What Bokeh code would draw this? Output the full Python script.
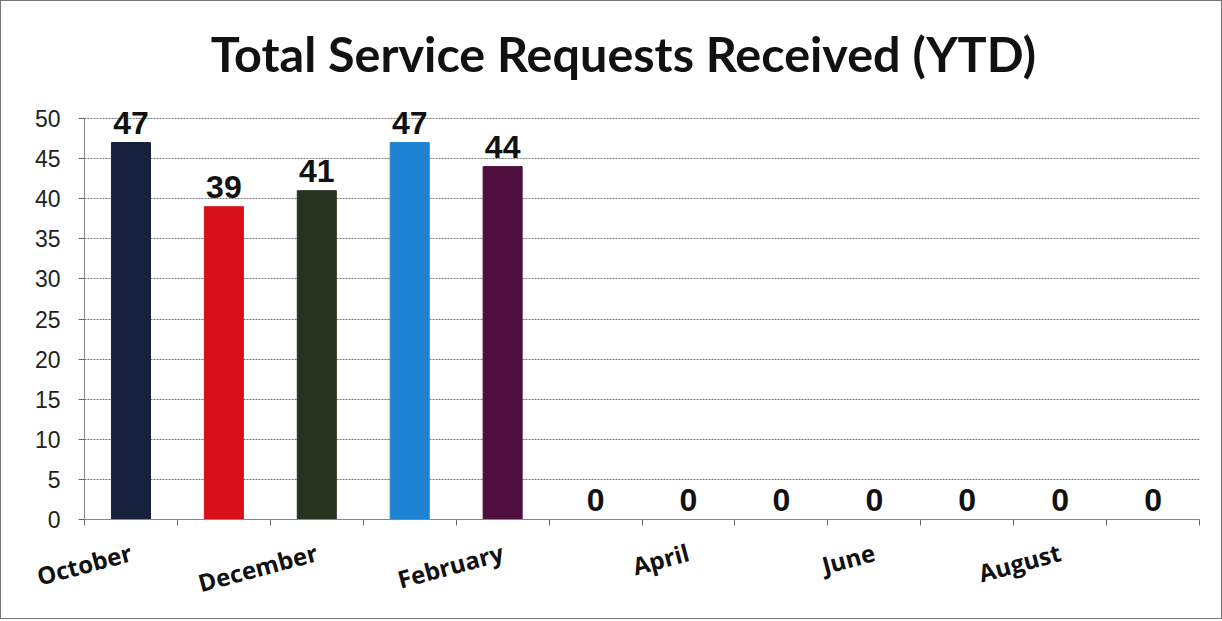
import math
from bokeh.plotting import figure
from bokeh.models import ColumnDataSource, Range1d, FixedTicker, Label
from bokeh.embed import file_html
from bokeh.resources import INLINE

months = ["October", "November", "December", "January", "February", "March",
          "April", "May", "June", "July", "August", "September"]
requests = [47, 39, 41, 47, 44, 0, 0, 0, 0, 0, 0, 0]
bar_colors = ["#16223d", "#d8101a", "#27331f", "#1d83d2", "#4e0f3f",
              "#ffffff", "#ffffff", "#ffffff", "#ffffff", "#ffffff", "#ffffff", "#ffffff"]
y_ticks = list(range(0, 51, 5))
title_text = "Total Service Requests Received (YTD)"

Y_MAX = 50
FRAME_H = 508          # frame extends above the 50 line so titles/labels are not clipped
PLOT_H = 401           # pixel height of the 0..50 value area

xpos = [i + 0.5 for i in range(len(months))]
src = ColumnDataSource(dict(x=xpos, y=requests, c=bar_colors))

p = figure(frame_width=1115, frame_height=FRAME_H, output_backend="svg", toolbar_location=None,
           x_range=Range1d(0, len(months)), y_range=Range1d(0, Y_MAX * FRAME_H / PLOT_H))
p.min_border_left = 83
p.min_border_right = 22
p.min_border_top = 10
p.min_border_bottom = 98
p.outline_line_color = None
p.background_fill_color = "white"
p.border_fill_color = "white"

# chart title, placed above the value area
p.add_layout(Label(x=5.8, y=54.5, text=title_text,
                   text_align="center", text_baseline="bottom",
                   text_font="Lato", text_font_size="48.5px", text_font_style="bold",
                   text_color="#111111"))

p.vbar(x="x", top="y", width=0.42, source=src, fill_color="c", line_color="c")

for xi, v in zip(xpos, requests):
    p.add_layout(Label(x=xi, y=v, text=str(v), text_align="center",
                       text_baseline="bottom", y_offset=9,
                       text_font="Liberation Sans", text_font_size="32px",
                       text_font_style="bold", text_color="#111111"))

# x axis
xa = p.xaxis[0]
label_idx = list(range(0, len(months), 2))
xa.ticker = FixedTicker(ticks=[xpos[i] for i in label_idx],
                        minor_ticks=list(range(len(months) + 1)))
xa.major_label_overrides = {xpos[i]: months[i] for i in label_idx}
xa.major_tick_out = 0
xa.major_tick_in = 0
xa.minor_tick_out = 6
xa.minor_tick_in = 0
xa.minor_tick_line_color = "#666666"
xa.axis_line_color = "#888888"
xa.major_label_orientation = math.pi / 12
xa.major_label_text_font = "Open Sans"
xa.major_label_text_font_style = "bold"
xa.major_label_text_font_size = "24px"
xa.major_label_text_color = "#111111"
xa.major_label_standoff = 26

# y axis
ya = p.yaxis[0]
ya.ticker = FixedTicker(ticks=y_ticks)
ya.bounds = (0, Y_MAX)
ya.minor_tick_line_color = None
ya.major_tick_out = 6
ya.major_tick_in = 0
ya.major_tick_line_color = "#666666"
ya.axis_line_color = "#888888"
ya.major_label_text_font = "Liberation Sans"
ya.major_label_text_font_size = "23px"
ya.major_label_text_color = "#222222"
ya.major_label_standoff = 18

p.xgrid.grid_line_color = None
p.ygrid.grid_line_color = "#777777"
p.ygrid.grid_line_dash = "2 1"
p.ygrid.grid_line_width = 1

p.styles = {"border": "1px solid #777777"}

open("out.html", "w").write(file_html(p, INLINE))
